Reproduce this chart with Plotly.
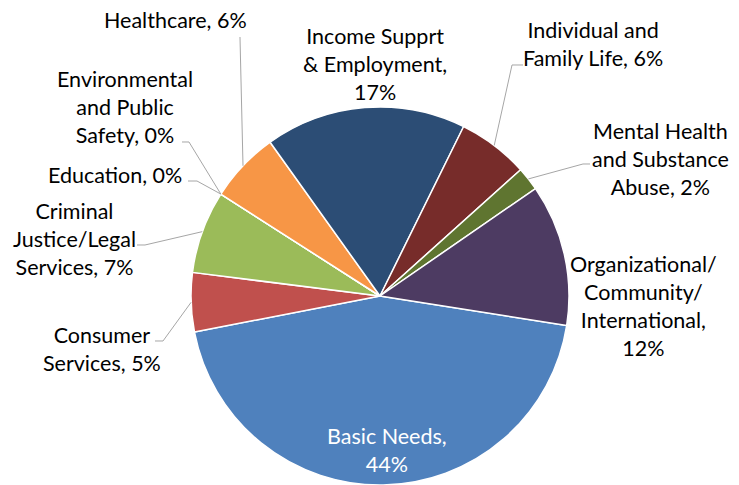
import math
import plotly.graph_objects as go

# ---------------- data ----------------
categories = ["Basic Needs", "Consumer Services", "Criminal Justice/Legal Services",
              "Education", "Environmental and Public Safety", "Healthcare",
              "Income Supprt & Employment", "Individual and Family Life",
              "Mental Health and Substance Abuse", "Organizational/Community/International"]
values = [44, 5, 7, 0, 0, 6, 17, 6, 2, 12]
label_templates = ["Basic Needs,<br>{p}", "Consumer<br>Services, {p}",
                   "Criminal<br>Justice/Legal<br>Services, {p}", "Education, {p}",
                   "Environmental<br>and Public<br>Safety, {p}", "Healthcare, {p}",
                   "Income Supprt<br>& Employment,<br>{p}", "Individual and<br>Family Life, {p}",
                   "Mental Health<br>and Substance<br>Abuse, {p}",
                   "Organizational/<br>Community/<br>International,<br>{p}"]

# ---------------- style / layout ----------------
colors = ["#4F81BD", "#C0504D", "#9BBB59", "#8064A2", "#4BACC6", "#F79646",
          "#2C4D75", "#772C2A", "#5F7530", "#4D3B62"]
W, H = 739, 485
CX, CY, R = 380, 296, 189      # pie centre / radius in pixels
ROTATION = 99                  # angle of first slice start (deg clockwise from 12 o'clock)
FONT = "Lato"
FS = 21.5

# label centres (px) and leader line label-side points (px)
label_pos = [(387, 450), (102, 349), (74, 239), (115, 175), (125, 107), (175, 20),
             (375, 64), (593, 44), (660, 159), (643, 306)]
label_color = ["white"] + ["black"] * 9
leader_pts = {1: [(155, 341), (163, 341)],
              2: [(137, 245), (145, 245)],
              3: [(188, 181), (197, 181)],
              4: [(182, 142), (189, 142)],
              5: [(240, 37)],
              7: [(523, 65), (512, 65)],
              8: [(590, 164), (583, 164)]}


def px(x, y):
    return x / W, 1 - y / H


total = sum(values)
fig = go.Figure(go.Pie(
    labels=categories, values=values, sort=False, direction="clockwise",
    rotation=ROTATION, marker=dict(colors=colors, line=dict(color="white", width=1.5)),
    textinfo="none", hoverinfo="label+percent", showlegend=False,
    domain=dict(x=[(CX - R) / W, (CX + R) / W], y=[(H - CY - R) / H, (H - CY + R) / H]),
))

annotations = []
shapes = []
cum = 0
for i, (cat, v) in enumerate(zip(categories, values)):
    pct = f"{round(v / total * 100)}%"
    text = label_templates[i].format(p=pct)
    lx, ly = label_pos[i]
    ax, ay = px(lx, ly)
    annotations.append(dict(x=ax, y=ay, xref="paper", yref="paper", text=text,
                            showarrow=False, align="center", xanchor="center", yanchor="middle",
                            font=dict(family=FONT, size=FS, color=label_color[i])))
    mid = cum + v / 2
    cum += v
    if i in leader_pts:
        ang = math.radians(ROTATION + mid / total * 360)
        ex = CX + R * math.sin(ang)
        ey = CY - R * math.cos(ang)
        pts = leader_pts[i] + [(ex, ey)]
        path = "M " + " L ".join(f"{px(x, y)[0]:.5f},{px(x, y)[1]:.5f}" for x, y in pts)
        shapes.append(dict(type="path", path=path, xref="paper", yref="paper",
                           line=dict(color="#A6A6A6", width=1)))

fig.update_layout(width=W, height=H, margin=dict(l=0, r=0, t=0, b=0),
                  paper_bgcolor="white", plot_bgcolor="white",
                  annotations=annotations, shapes=shapes,
                  font=dict(family=FONT, size=FS))
fig.write_html("out.html", config={"displayModeBar": False},
               post_script="document.body.style.margin='0';")
